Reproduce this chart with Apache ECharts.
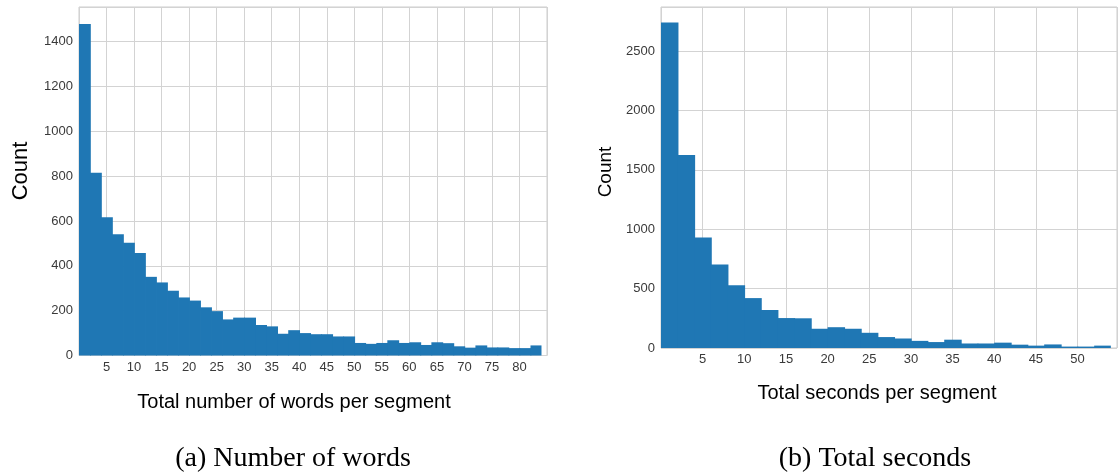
<!DOCTYPE html>
<html>
<head>
<meta charset="utf-8">
<script src="https://cdn.jsdelivr.net/npm/echarts@6/dist/echarts.min.js"></script>
<style>
html,body{margin:0;padding:0;background:#fff;}
#c{width:1120px;height:475px;}
</style>
</head>
<body>
<div id="c"></div>
<script>
// ---- data ----
const wordsBinStart = 0;
const wordsBinWidth = 2;
const wordsCounts = [1479, 815, 617, 541, 503, 457, 351, 326, 289, 259,
  245, 215, 198, 161, 169, 169, 136, 130, 97, 113,
  100, 95, 95, 85, 85, 56, 52, 56, 68, 56,
  59, 47, 59, 55, 41, 35, 45, 36, 36, 33,
  33, 45];
const secondsBinStart = 0;
const secondsBinWidth = 2;
const secondsCounts = [2740, 1625, 930, 703, 528, 420, 320, 252, 250, 162,
  175, 162, 128, 92, 80, 60, 50, 70, 38, 38,
  45, 28, 20, 30, 12, 12, 20];
const wordsXTicks = [5, 10, 15, 20, 25, 30, 35, 40, 45, 50, 55, 60, 65, 70, 75, 80];
const wordsYTicks = [0, 200, 400, 600, 800, 1000, 1200, 1400];
const secondsXTicks = [5, 10, 15, 20, 25, 30, 35, 40, 45, 50];
const secondsYTicks = [0, 500, 1000, 1500, 2000, 2500];
const texts = {
  wordsX: 'Total number of words per segment',
  secondsX: 'Total seconds per segment',
  yName: 'Count',
  capA: '(a) Number of words',
  capB: '(b) Total seconds'
};

function toBins(start, width, counts) {
  return counts.map((c, i) => [start + i * width, start + (i + 1) * width, c]);
}

const BAR = '#1f77b4';
const GRID = '#d3d3d3';
const TICK = '#3a3a3a';
const SANS = 'Liberation Sans, Arial, sans-serif';
const SERIF = 'Liberation Serif, Times New Roman, serif';

function renderBin(params, api) {
  const p0 = api.coord([api.value(0), 0]);
  const p1 = api.coord([api.value(1), api.value(2)]);
  const last = params.dataIndex === params.dataInsideLength - 1;
  return {
    type: 'rect',
    shape: { x: p0[0], y: p1[1], width: p1[0] - p0[0] + (last ? 0 : 0.8), height: p0[1] - p1[1] },
    style: { fill: BAR }
  };
}

function labelFmt(list) {
  return v => (list.indexOf(Math.round(v * 1000) / 1000) >= 0 ? String(v) : '');
}

const chart = echarts.init(document.getElementById('c'), null, { renderer: 'canvas' });

chart.setOption({
  animation: false,
  backgroundColor: '#fff',
  grid: [
    { left: 79, right: 573, top: 7, bottom: 119.5, show: true, borderColor: '#cccccc', borderWidth: 1, containLabel: false },
    { left: 661, right: -3, top: 7, bottom: 127, show: true, borderColor: '#cccccc', borderWidth: 1, containLabel: false }
  ],
  xAxis: [
    { type: 'value', gridIndex: 0, min: 0, max: 85, interval: 5,
      axisLine: { show: false }, axisTick: { show: false },
      splitLine: { show: true, lineStyle: { color: GRID, width: 1 } },
      axisLabel: { color: TICK, fontSize: 13, fontFamily: SANS, margin: 5, formatter: labelFmt(wordsXTicks) } },
    { type: 'value', gridIndex: 1, min: 0, max: 54.74, interval: 5,
      axisLine: { show: false }, axisTick: { show: false },
      splitLine: { show: true, lineStyle: { color: GRID, width: 1 } },
      axisLabel: { color: TICK, fontSize: 13, fontFamily: SANS, margin: 5, formatter: labelFmt(secondsXTicks) } }
  ],
  yAxis: [
    { type: 'value', gridIndex: 0, min: 0, max: 1555, interval: 200,
      axisLine: { show: false }, axisTick: { show: false },
      splitLine: { show: true, lineStyle: { color: GRID, width: 1 } },
      axisLabel: { color: TICK, fontSize: 13, fontFamily: SANS, margin: 6, formatter: labelFmt(wordsYTicks) } },
    { type: 'value', gridIndex: 1, min: 0, max: 2870, interval: 500,
      axisLine: { show: false }, axisTick: { show: false },
      splitLine: { show: true, lineStyle: { color: GRID, width: 1 } },
      axisLabel: { color: TICK, fontSize: 13, fontFamily: SANS, margin: 6, formatter: labelFmt(secondsYTicks) } }
  ],
  series: [
    { type: 'custom', xAxisIndex: 0, yAxisIndex: 0, renderItem: renderBin,
      encode: { x: [0, 1], y: 2 }, data: toBins(wordsBinStart, wordsBinWidth, wordsCounts) },
    { type: 'custom', xAxisIndex: 1, yAxisIndex: 1, renderItem: renderBin,
      encode: { x: [0, 1], y: 2 }, data: toBins(secondsBinStart, secondsBinWidth, secondsCounts) }
  ],
  graphic: [
    { type: 'text', x: 21, y: 171, rotation: Math.PI / 2,
      style: { text: texts.yName, fill: '#000', font: '22px ' + SANS, textAlign: 'center', textVerticalAlign: 'middle' } },
    { type: 'text', x: 606, y: 172, rotation: Math.PI / 2,
      style: { text: texts.yName, fill: '#000', font: '19px ' + SANS, textAlign: 'center', textVerticalAlign: 'middle' } },
    { type: 'text', x: 294, y: 402,
      style: { text: texts.wordsX, fill: '#000', font: '20px ' + SANS, textAlign: 'center', textVerticalAlign: 'middle' } },
    { type: 'text', x: 877, y: 393,
      style: { text: texts.secondsX, fill: '#000', font: '20px ' + SANS, textAlign: 'center', textVerticalAlign: 'middle' } },
    { type: 'text', x: 293, y: 459,
      style: { text: texts.capA, fill: '#000', font: '28px ' + SERIF, textAlign: 'center', textVerticalAlign: 'middle' } },
    { type: 'text', x: 875, y: 459,
      style: { text: texts.capB, fill: '#000', font: '28px ' + SERIF, textAlign: 'center', textVerticalAlign: 'middle' } }
  ]
});
</script>
</body>
</html>
